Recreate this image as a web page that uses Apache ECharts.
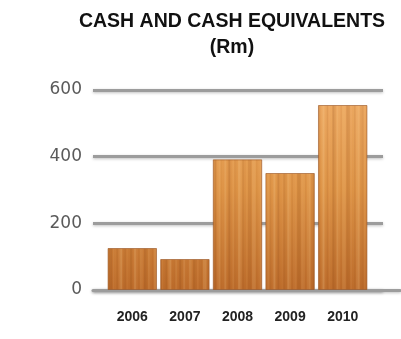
<!DOCTYPE html>
<html>
<head>
<meta charset="utf-8">
<script src="https://cdn.jsdelivr.net/npm/echarts@6/dist/echarts.min.js"></script>
<style>
  html, body { margin: 0; padding: 0; background: #ffffff; }
  #chart { width: 401px; height: 339px; }
</style>
</head>
<body>
<div id="chart"></div>
<script>
// Cash and cash equivalents, Rm
const years = ['2006', '2007', '2008', '2009', '2010'];
const cash = [126, 93, 392, 351, 555];
const yTicks = [0, 200, 400, 600];

// Wood-grain fill: warm vertical shading with fine vertical streaks
function woodTexture(w, h) {
  const c = document.createElement('canvas');
  c.width = w; c.height = h;
  const ctx = c.getContext('2d');
  const g = ctx.createLinearGradient(0, 100, 0, 296);
  g.addColorStop(0, '#eda962');
  g.addColorStop(0.45, '#de9447');
  g.addColorStop(1, '#bb6a2a');
  ctx.fillStyle = g;
  ctx.fillRect(0, 0, w, h);
  for (let x = 0; x < w; x++) {
    const s = Math.sin(x * 0.9) * 0.5 + Math.sin(x * 0.37 + 1.3) * 0.35 + Math.sin(x * 2.3) * 0.15;
    ctx.fillStyle = s > 0 ? 'rgba(255,225,170,' + (s * 0.2) + ')' : 'rgba(120,55,10,' + (-s * 0.2) + ')';
    ctx.fillRect(x, 0, 1, h);
  }
  return c;
}

const lineGrey = '#9c9c9c';
const lineShadow = { shadowColor: 'rgba(0,0,0,0.25)', shadowBlur: 3, shadowOffsetY: 1 };

const chart = echarts.init(document.getElementById('chart'), null, { renderer: 'canvas' });

chart.setOption({
  animation: false,
  backgroundColor: '#ffffff',
  title: {
    text: 'CASH AND CASH EQUIVALENTS\n(Rm)',
    left: 227,
    textAlign: 'center',
    top: 4,
    textStyle: {
      fontFamily: 'Liberation Sans, Arial, sans-serif',
      fontWeight: 'bold',
      fontSize: 19.5,
      lineHeight: 26,
      color: '#111111'
    }
  },
  grid: [
    { left: 93, right: 18, top: 90, bottom: 49 },
    { left: 106, right: 32, top: 90, bottom: 49 },
    { left: 93, right: 1, top: 90, bottom: 49 }
  ],
  xAxis: [
    {
      gridIndex: 0, type: 'category', data: years,
      axisLine: { show: false }, axisTick: { show: false }, axisLabel: { show: false }
    },
    {
      gridIndex: 1, type: 'category', data: years,
      axisLine: { show: false }, axisTick: { show: false },
      axisLabel: {
        margin: 20,
        fontFamily: 'Liberation Sans, Arial, sans-serif',
        fontWeight: 'bold',
        fontSize: 14,
        color: '#222222'
      }
    },
    {
      // baseline running out past the other rules
      gridIndex: 2, type: 'category', data: years,
      axisTick: { show: false }, axisLabel: { show: false },
      axisLine: { show: true, lineStyle: Object.assign({ color: lineGrey, width: 3 }, lineShadow) }
    }
  ],
  yAxis: [
    {
      gridIndex: 0, type: 'value', min: yTicks[0], max: yTicks[yTicks.length - 1], interval: 200,
      axisLine: { show: false }, axisTick: { show: false },
      axisLabel: {
        margin: 11,
        fontFamily: 'DejaVu Sans, sans-serif',
        fontSize: 17,
        color: '#5a5a5a'
      },
      splitLine: {
        show: true,
        lineStyle: Object.assign({ color: lineGrey, width: 3 }, lineShadow)
      }
    },
    {
      gridIndex: 1, type: 'value', min: yTicks[0], max: yTicks[yTicks.length - 1], interval: 200,
      show: false, splitLine: { show: false }
    },
    {
      gridIndex: 2, type: 'value', min: yTicks[0], max: yTicks[yTicks.length - 1], interval: 200,
      show: false, splitLine: { show: false }
    }
  ],
  series: [
    {
      type: 'bar',
      xAxisIndex: 1,
      yAxisIndex: 1,
      data: cash,
      barCategoryGap: '6%',
      itemStyle: {
        color: { image: woodTexture(401, 339), repeat: 'no-repeat' },
        borderColor: 'rgba(150,80,30,0.6)',
        borderWidth: 1
      }
    }
  ]
});
</script>
</body>
</html>
